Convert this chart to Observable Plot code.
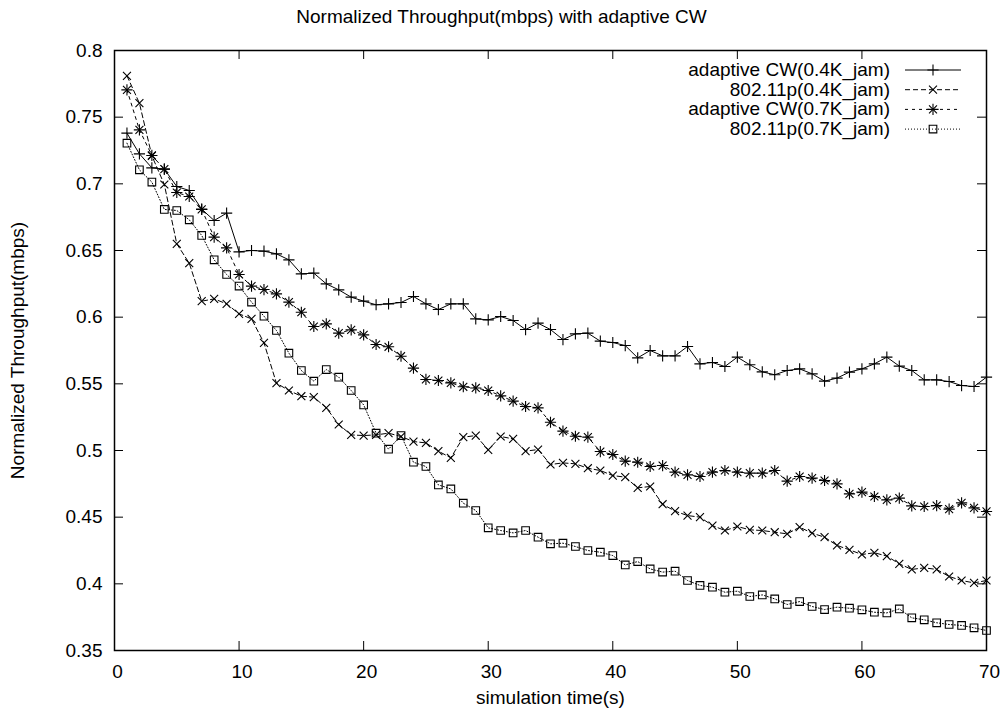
<!DOCTYPE html>
<html>
<head>
<meta charset="utf-8">
<script src="https://cdn.jsdelivr.net/npm/d3@7"></script>
<script src="https://cdn.jsdelivr.net/npm/@observablehq/plot@0.6"></script>
<style>
  html, body { margin: 0; padding: 0; background: #fff; }
  #chart svg { display: block; }
</style>
</head>
<body>
<div id="chart"></div>
<script>
const times = [1,2,3,4,5,6,7,8,9,10,11,12,13,14,15,16,17,18,19,20,21,22,23,24,25,26,27,28,29,30,31,32,33,34,35,36,37,38,39,40,41,42,43,44,45,46,47,48,49,50,51,52,53,54,55,56,57,58,59,60,61,62,63,64,65,66,67,68,69,70];

const adaptive04 = [0.738,0.7225,0.712,0.711,0.698,0.695,0.681,0.6725,0.678,0.649,0.650,0.6495,0.6475,0.643,0.6325,0.633,0.625,0.6205,0.615,0.612,0.6093,0.610,0.611,0.6155,0.610,0.6057,0.610,0.610,0.5987,0.598,0.6005,0.5975,0.5907,0.5955,0.5907,0.5832,0.5875,0.588,0.582,0.581,0.5787,0.5695,0.575,0.571,0.571,0.578,0.565,0.566,0.563,0.570,0.5643,0.559,0.5568,0.560,0.5612,0.5575,0.552,0.5543,0.5588,0.5612,0.565,0.570,0.5633,0.560,0.553,0.553,0.5517,0.5487,0.548,0.555];

const p80211_04 = [0.781,0.7605,0.721,0.6995,0.655,0.6405,0.612,0.6137,0.610,0.6025,0.5987,0.5807,0.5505,0.545,0.5407,0.540,0.532,0.5195,0.5117,0.5112,0.5117,0.513,0.5105,0.5067,0.5057,0.4995,0.4945,0.510,0.5112,0.5005,0.5105,0.5087,0.4995,0.5007,0.4895,0.4907,0.490,0.4867,0.485,0.4812,0.480,0.472,0.473,0.4597,0.4545,0.4512,0.450,0.4437,0.440,0.443,0.4405,0.440,0.4387,0.4375,0.4425,0.438,0.435,0.4288,0.4255,0.422,0.4233,0.4208,0.415,0.4108,0.412,0.4108,0.4055,0.4025,0.4007,0.4025];

const adaptive07 = [0.7705,0.7405,0.7213,0.711,0.6935,0.6905,0.6808,0.660,0.652,0.632,0.6233,0.6207,0.6175,0.6113,0.6037,0.593,0.595,0.588,0.5905,0.5867,0.5795,0.5778,0.5707,0.5618,0.5533,0.5525,0.5507,0.5478,0.5469,0.545,0.541,0.537,0.533,0.532,0.5212,0.5145,0.5107,0.510,0.4992,0.497,0.492,0.4912,0.488,0.4887,0.4838,0.4817,0.4805,0.4838,0.485,0.4838,0.483,0.483,0.485,0.477,0.4805,0.4793,0.4775,0.475,0.4675,0.4688,0.4655,0.463,0.4643,0.4585,0.458,0.4587,0.456,0.4607,0.457,0.4543];

const p80211_07 = [0.7305,0.7105,0.7013,0.6808,0.680,0.673,0.6613,0.643,0.632,0.6233,0.6113,0.6007,0.590,0.573,0.560,0.552,0.5607,0.555,0.545,0.5342,0.513,0.501,0.5112,0.4912,0.488,0.4742,0.4712,0.4605,0.455,0.442,0.440,0.4382,0.440,0.435,0.430,0.4305,0.428,0.425,0.4237,0.4212,0.4142,0.4167,0.4112,0.4088,0.4095,0.4025,0.3988,0.3975,0.3937,0.3945,0.3905,0.3917,0.3887,0.3845,0.3867,0.383,0.3807,0.3825,0.3817,0.3805,0.3787,0.3782,0.3812,0.3745,0.373,0.3708,0.3695,0.3688,0.367,0.365];

const seriesNames = ["adaptive CW(0.4K_jam)", "802.11p(0.4K_jam)", "adaptive CW(0.7K_jam)", "802.11p(0.7K_jam)"];
const xTicks = [0, 10, 20, 30, 40, 50, 60, 70];
const yTicks = [0.35, 0.4, 0.45, 0.5, 0.55, 0.6, 0.65, 0.7, 0.75, 0.8];
const titleText = "Normalized Throughput(mbps) with adaptive CW";
const xLabel = "simulation time(s)";
const yLabel = "Normalized Throughput(mbps)";

const valuesBySeries = [adaptive04, p80211_04, adaptive07, p80211_07];
const styles = [
  {dash: null, symbols: ["plus"], r: 3.7},
  {dash: "5,3", symbols: ["times"], r: 3.7},
  {dash: "3,4", symbols: ["plus", "times"], r: 3.7},
  {dash: "1,2", symbols: ["square"], r: 4.3}
];

const rows = [];
valuesBySeries.forEach((vals, i) => {
  vals.forEach((v, j) => rows.push({series: seriesNames[i], t: times[j], v}));
});

const FONT = "'Liberation Sans', Arial, Helvetica, sans-serif";
const W = 1001, H = 711;
const mL = 114, mR = 15, mT = 50, mB = 61;
const innerW = W - mL - mR, innerH = H - mT - mB;
const tickLen = 9;

const marks = [];
// inward ticks on all four sides (mirror)
marks.push(Plot.ruleX(xTicks, {x: d => d, insetTop: innerH - tickLen, stroke: "black", strokeWidth: 1}));
marks.push(Plot.ruleX(xTicks, {x: d => d, insetBottom: innerH - tickLen, stroke: "black", strokeWidth: 1}));
marks.push(Plot.ruleY(yTicks, {y: d => d, insetRight: innerW - tickLen, stroke: "black", strokeWidth: 1}));
marks.push(Plot.ruleY(yTicks, {y: d => d, insetLeft: innerW - tickLen, stroke: "black", strokeWidth: 1}));

seriesNames.forEach((name, i) => {
  const data = rows.filter(d => d.series === name);
  const st = styles[i];
  marks.push(Plot.line(data, {x: "t", y: "v", stroke: "black", strokeWidth: 1, strokeDasharray: st.dash}));
  st.symbols.forEach(sym => {
    marks.push(Plot.dot(data, {x: "t", y: "v", symbol: sym, r: st.r, stroke: "black", fill: "none", strokeWidth: 1.1}));
  });
});

marks.push(Plot.frame({stroke: "black", strokeWidth: 1.5}));
marks.push(Plot.axisX({ticks: xTicks, tickSize: 0, tickPadding: 13.5, dx: 3, tickFormat: d => String(d),
  label: xLabel, labelAnchor: "center", labelArrow: "none", labelOffset: 53}));
marks.push(Plot.axisY({ticks: yTicks, tickSize: 0, tickPadding: 12, tickFormat: d => String(+d.toFixed(2)),
  label: yLabel, labelAnchor: "center", labelArrow: "none", labelOffset: 104}));
marks.push(Plot.text([titleText], {text: d => d, frameAnchor: "top", dx: -49, dy: -41, fontSize: 19}));

const chart = Plot.plot({
  width: W, height: H,
  marginLeft: mL, marginRight: mR, marginTop: mT, marginBottom: mB,
  x: {domain: [0, 70]},
  y: {domain: [0.35, 0.8]},
  style: {fontFamily: FONT, fontSize: "19px", color: "black", background: "white", overflow: "visible"},
  marks
});

// legend (annotation), drawn with d3 on top of the Plot svg
const svg = d3.select(chart);
const lg = svg.append("g").attr("font-family", FONT).attr("font-size", 19);
const symMap = {plus: d3.symbolPlus, times: d3.symbolTimes, square: d3.symbolSquare};
seriesNames.forEach((name, i) => {
  const y = 70 + i * 19.7;
  const st = styles[i];
  lg.append("text").attr("x", 890).attr("y", y).attr("dy", "0.32em").attr("text-anchor", "end").attr("fill", "black").text(name);
  lg.append("line").attr("x1", 905).attr("x2", 961).attr("y1", y).attr("y2", y)
    .attr("stroke", "black").attr("stroke-width", 1).attr("stroke-dasharray", st.dash);
  st.symbols.forEach(sym => {
    lg.append("path").attr("transform", `translate(933,${y})`)
      .attr("d", d3.symbol(symMap[sym], Math.PI * st.r * st.r)())
      .attr("fill", "none").attr("stroke", "black").attr("stroke-width", 1.1);
  });
});

document.getElementById("chart").appendChild(chart);
</script>
</body>
</html>
